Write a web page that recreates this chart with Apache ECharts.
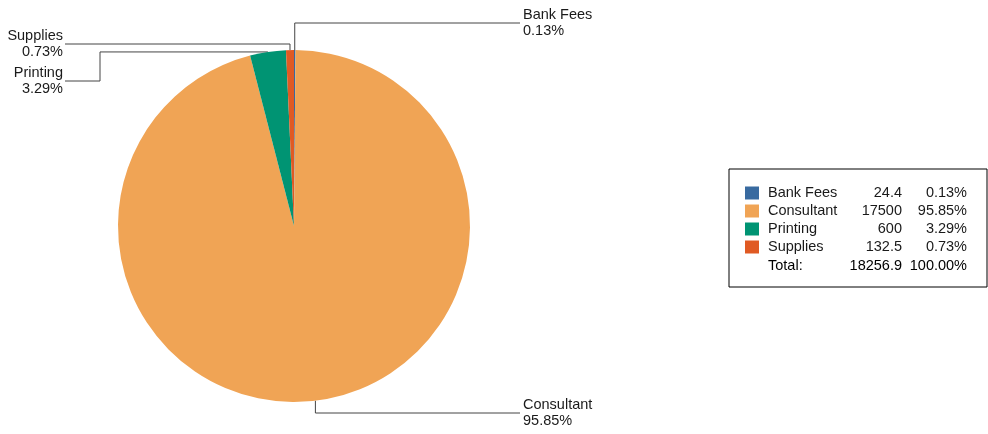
<!DOCTYPE html>
<html><head><meta charset="utf-8">
<script src="https://cdn.jsdelivr.net/npm/echarts@6/dist/echarts.min.js"></script>
<style>html,body{margin:0;padding:0;background:#fff}#c{width:988px;height:434px}</style>
</head><body><div id="c"></div>
<script>
const categories = ['Bank Fees', 'Consultant', 'Printing', 'Supplies'];
const values = [24.4, 17500, 600, 132.5];
const colors = ['#386aa0', '#f0a455', '#009473', '#e05a23'];
const totalLabel = 'Total:';

const total = values.reduce((a, b) => a + b, 0);
const pct = v => (v / total * 100).toFixed(2) + '%';
const FONT = '"Liberation Sans", Arial, sans-serif';
const FS = 14.5;

const rich = {
  n: { width: 80, padding: [0, 0, 0, 4], fontSize: FS, lineHeight: 16, color: '#1a1a1a', fontFamily: FONT },
  v: { width: 54, align: 'right', fontSize: FS, lineHeight: 16, color: '#1a1a1a', fontFamily: FONT },
  p: { width: 65, align: 'right', fontSize: FS, lineHeight: 16, color: '#1a1a1a', fontFamily: FONT }
};

// label placement (layout only)
const labelPlace = [
  { kind: 'up', y: 23, endX: 520, x: 523, align: 'left' },
  { kind: 'down', y: 413, endX: 520, x: 523, align: 'left' },
  { kind: 'elbow', midX: 100, y: 81, endX: 65, x: 63, align: 'right' },
  { kind: 'up', y: 44, endX: 65, x: 63, align: 'right' }
];

const chart = echarts.init(document.getElementById('c'), null, { renderer: 'canvas' });
chart.setOption({
  animation: false,
  color: colors,
  legend: {
    orient: 'vertical',
    left: 729,
    top: 169,
    padding: [16, 20, 32, 16],
    itemWidth: 14,
    itemHeight: 13,
    itemGap: 2,
    icon: 'rect',
    borderColor: '#000',
    borderWidth: 1,
    selectedMode: false,
    data: categories,
    textStyle: { fontSize: FS, lineHeight: 16, color: '#1a1a1a', fontFamily: FONT, rich: rich },
    formatter: function (name) {
      const i = categories.indexOf(name);
      return '{n|' + name + '}{v|' + values[i] + '}{p|' + pct(values[i]) + '}';
    }
  },
  graphic: [{
    type: 'text',
    x: 764,
    y: 266,
    style: {
      text: '{n|' + totalLabel + '}{v|' + (Math.round(total * 10) / 10) + '}{p|' + (100).toFixed(2) + '%}',
      rich: rich,
      verticalAlign: 'middle',
      fontSize: FS,
      fontFamily: FONT
    }
  }],
  series: [{
    type: 'pie',
    center: [294, 226],
    radius: 176,
    startAngle: 90,
    clockwise: true,
    avoidLabelOverlap: false,
    itemStyle: { borderWidth: 0 },
    emphasis: { disabled: true },
    label: {
      show: true,
      position: 'outside',
      formatter: '{b}\n{d}%',
      fontSize: FS,
      lineHeight: 16,
      color: '#1a1a1a',
      fontFamily: FONT
    },
    labelLine: { show: true, lineStyle: { color: '#444', width: 1 } },
    labelLayout: function (params) {
      const L = labelPlace[params.dataIndex];
      const s = params.labelLinePoints[0];
      let pts;
      if (L.kind === 'elbow') {
        pts = [s, [L.midX, s[1]], [L.midX, L.y], [L.endX, L.y]];
      } else {
        pts = [s, [s[0], L.y], [L.endX, L.y]];
      }
      return { x: L.x, y: L.y, align: L.align, verticalAlign: 'middle', labelLinePoints: pts };
    },
    data: categories.map((c, i) => ({ name: c, value: values[i] }))
  }]
});
</script>
</body></html>
